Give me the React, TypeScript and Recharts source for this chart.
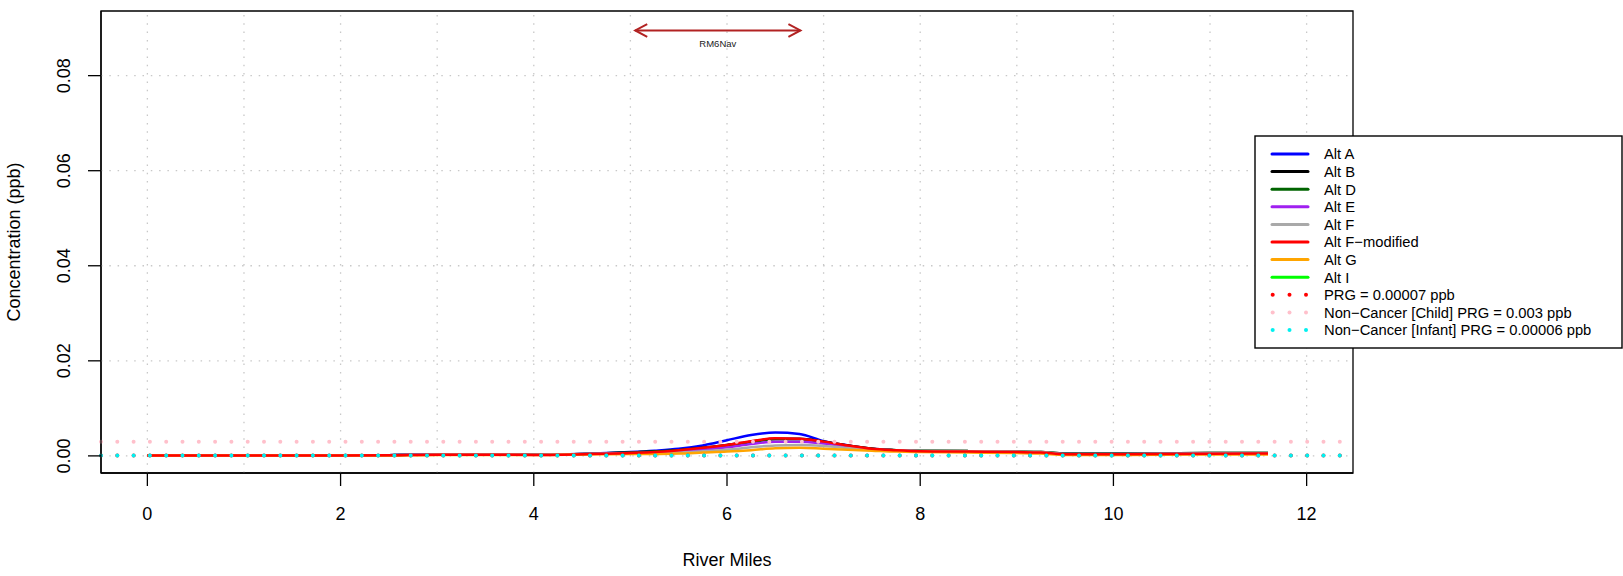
import React from "react";
import { LineChart, Line, XAxis, YAxis, ReferenceLine, ReferenceArea } from "recharts";

const FONT = '"Liberation Sans", Arial, Helvetica, sans-serif';

const riverMiles = [0, 0.5, 1, 1.5, 2, 2.5, 3, 3.5, 4, 4.5, 5, 5.25, 5.5, 5.75, 6, 6.25, 6.5, 6.75, 7, 7.25, 7.5, 7.75, 8, 8.5, 9, 9.25, 9.5, 10, 10.5, 11, 11.6];

const altA = [0.0001, 0.0001, 0.0001, 0.0001, 0.0001, 0.00015, 0.0003, 0.0003, 0.00025, 0.0004, 0.0008, 0.0011, 0.0015, 0.0022, 0.0033, 0.0044, 0.0049, 0.0046, 0.0031, 0.0022, 0.0015, 0.0012, 0.001, 0.0009, 0.0008, 0.0007, 0.00035, 0.00035, 0.0004, 0.00045, 0.0005];
const altB = [0.0001, 0.0001, 0.0001, 0.0001, 0.0001, 0.00015, 0.0003, 0.0003, 0.00025, 0.0004, 0.0007, 0.0009, 0.0012, 0.0017, 0.0023, 0.003, 0.0036, 0.0036, 0.003, 0.0022, 0.0015, 0.0012, 0.0011, 0.001, 0.0009, 0.0008, 0.0005, 0.0005, 0.00055, 0.0006, 0.0006];
const altD = [0.0001, 0.0001, 0.0001, 0.0001, 0.0001, 0.00015, 0.0003, 0.0003, 0.00025, 0.0004, 0.0007, 0.0009, 0.0012, 0.0016, 0.0022, 0.0029, 0.0035, 0.0035, 0.0029, 0.0021, 0.0015, 0.0012, 0.0011, 0.001, 0.0009, 0.0008, 0.0005, 0.0005, 0.00055, 0.0006, 0.0006];
const altE = [0.0001, 0.0001, 0.0001, 0.0001, 0.0001, 0.00015, 0.0003, 0.0003, 0.00025, 0.0004, 0.0006, 0.0006, 0.0009, 0.0013, 0.0018, 0.0025, 0.003, 0.003, 0.0026, 0.002, 0.0014, 0.0012, 0.001, 0.0009, 0.0008, 0.0007, 0.0004, 0.0004, 0.00045, 0.0005, 0.0005];
const altF = [0.0001, 0.0001, 0.0001, 0.0001, 0.0001, 0.00015, 0.0003, 0.0003, 0.00025, 0.0004, 0.0005, 0.0005, 0.0007, 0.001, 0.0013, 0.0018, 0.0022, 0.0023, 0.0021, 0.0017, 0.0013, 0.0012, 0.0011, 0.001, 0.0009, 0.0008, 0.0004, 0.0004, 0.00045, 0.0005, 0.0005];
const altFmod = [0.0001, 0.0001, 0.0001, 0.0001, 0.0001, 0.00015, 0.00025, 0.00025, 0.0002, 0.00035, 0.0006, 0.0008, 0.0012, 0.0017, 0.0023, 0.0031, 0.0037, 0.0036, 0.003, 0.0022, 0.0015, 0.0012, 0.001, 0.0009, 0.0008, 0.0007, 0.00035, 0.00035, 0.0004, 0.00045, 0.0005];
const altG = [0.0001, 0.0001, 0.0001, 0.0001, 0.0001, 0.0001, 0.0002, 0.0002, 0.0002, 0.0003, 0.0004, 0.0004, 0.0005, 0.0007, 0.0009, 0.0012, 0.0016, 0.0017, 0.0015, 0.0013, 0.0011, 0.0009, 0.0008, 0.0007, 0.0006, 0.0005, 0.0002, 0.0002, 0.00025, 0.0003, 0.0003];

const seriesNames = ["Alt A", "Alt B", "Alt D", "Alt E", "Alt F", "Alt F\u2212modified", "Alt G", "Alt I"];
const seriesColors = ["#0000FF", "#000000", "#006400", "#A020F0", "#A9A9A9", "#FF0000", "#FFA500", "#00FF00"];
const seriesKeys = ["altA", "altB", "altD", "altE", "altF", "altFmod", "altG", "altI"];
const drawOrder = ["altA", "altB", "altD", "altE", "altF", "altG", "altFmod"];

const prgNames = ["PRG = 0.00007 ppb", "Non\u2212Cancer [Child] PRG = 0.003 ppb", "Non\u2212Cancer [Infant] PRG = 0.00006 ppb"];
const prgValues = [0.00007, 0.003, 0.00006];
const prgColors = ["#FF0000", "#FFC0CB", "#00F0F0"];

const xTicks = [0, 2, 4, 6, 8, 10, 12];
const yTicks = [0, 0.02, 0.04, 0.06, 0.08];
const gridX = [0, 1, 2, 3, 4, 5, 6, 7, 8, 9, 10, 11, 12];
const xDomain = [-0.48, 12.48];
const yDomain = [-0.0036, 0.0936];

const annotStart = 5.05;
const annotEnd = 6.76;
const annotY = 0.0895;
const annotText = "RM6Nav";

const xTitle = "River Miles";
const yTitle = "Concentration (ppb)";

const seriesValues: Record<string, number[]> = { altA, altB, altD, altE, altF, altFmod, altG };

const data = riverMiles.map((x, i) => {
  const row: Record<string, number> = { x };
  Object.keys(seriesValues).forEach((k) => {
    row[k] = seriesValues[k][i];
  });
  return row;
});

const W = 1623;
const H = 576;

const YTick = (props: any) => {
  const { y, payload } = props;
  const tx = 70.5;
  return (
    <text x={tx} y={y} transform={`rotate(-90, ${tx}, ${y})`} textAnchor="middle" fontSize={18} fill="#000" fontFamily={FONT}>
      {Number(payload.value).toFixed(2)}
    </text>
  );
};

const YLabel = (props: any) => {
  const vb = props.viewBox || { x: 0, y: 11, width: 101, height: 462 };
  const cy = vb.y + vb.height / 2;
  const tx = 19.5;
  return (
    <text x={tx} y={cy} transform={`rotate(-90, ${tx}, ${cy})`} textAnchor="middle" fontSize={18} fill="#000" fontFamily={FONT}>
      {yTitle}
    </text>
  );
};

const ArrowShape = (props: any) => {
  const { x1, y1, x2, y2 } = props;
  if (x1 == null) return null;
  const c = "#B22222";
  const hl = 12;
  const hw = 6.3;
  return (
    <g>
      <line x1={x1} y1={y1} x2={x2} y2={y2} stroke={c} strokeWidth={2} />
      <polyline points={`${x1 + hl},${y1 - hw} ${x1},${y1} ${x1 + hl},${y1 + hw}`} fill="none" stroke={c} strokeWidth={2} />
      <polyline points={`${x2 - hl},${y2 - hw} ${x2},${y2} ${x2 - hl},${y2 + hw}`} fill="none" stroke={c} strokeWidth={2} />
      <text x={(x1 + x2) / 2} y={y1 + 16.5} textAnchor="middle" fontSize={9.5} fill="#222" fontFamily={FONT}>
        {annotText}
      </text>
    </g>
  );
};

const LegendBox = () => {
  const left = 1255;
  const top = 136;
  const w = 367;
  const h = 212;
  const rowH = 17.6;
  const firstY = 154;
  const rows: { name: string; color: string; dotted: boolean }[] = [
    ...seriesNames.map((n, i) => ({ name: n, color: seriesColors[i], dotted: false })),
    ...prgNames.map((n, i) => ({ name: n, color: prgColors[i], dotted: true })),
  ];
  return (
    <svg width={W} height={H} style={{ position: "absolute", left: 0, top: 0, pointerEvents: "none" }}>
      <rect x={left} y={top} width={w} height={h} fill="#fff" stroke="#000" strokeWidth={1.4} />
      {rows.map((r, i) => {
        const y = firstY + i * rowH;
        return (
          <g key={r.name}>
            {r.dotted ? (
              [1272.7, 1289.5, 1306].map((cx) => <circle key={cx} cx={cx} cy={y} r={2} fill={r.color} />)
            ) : (
              <line x1={1272} x2={1308} y1={y} y2={y} stroke={r.color} strokeWidth={3} strokeLinecap="round" />
            )}
            <text x={1324} y={y + 5.3} fontSize={14.75} fill="#000" fontFamily={FONT}>
              {r.name}
            </text>
          </g>
        );
      })}
    </svg>
  );
};

export default function App() {
  return (
    <div style={{ position: "absolute", left: 0, top: 0, width: W, height: H, background: "#fff" }}>
      <LineChart width={W} height={H} data={data} margin={{ top: 11, right: 270, bottom: 0, left: 0 }}>
        <XAxis
          dataKey="x"
          type="number"
          domain={xDomain}
          ticks={xTicks}
          allowDataOverflow
          height={103}
          tickSize={13}
          tickMargin={21.5}
          tick={{ fontSize: 18, fill: "#000", fontFamily: FONT }}
          stroke="#000"
          strokeWidth={1.3}
          tickLine={{ stroke: "#000", strokeWidth: 1.3 }}
          label={{ value: xTitle, position: "insideBottom", offset: 10, fontSize: 18, fill: "#000", fontFamily: FONT }}
        />
        <YAxis
          type="number"
          domain={yDomain}
          ticks={yTicks}
          allowDataOverflow
          width={101}
          tickSize={13}
          tick={<YTick />}
          stroke="#000"
          strokeWidth={1.3}
          tickLine={{ stroke: "#000", strokeWidth: 1.3 }}
          label={<YLabel />}
        />
        {gridX.map((g) => (
          <ReferenceLine key={"gx" + g} x={g} stroke="#c8c8c8" strokeWidth={1.3} strokeDasharray="1.5 6.8" />
        ))}
        {yTicks.map((g) => (
          <ReferenceLine key={"gy" + g} y={g} stroke="#c8c8c8" strokeWidth={1.3} strokeDasharray="1.5 6.8" />
        ))}
        {drawOrder.map((k) => (
          <Line
            key={k}
            dataKey={k}
            type="monotone"
            stroke={seriesColors[seriesKeys.indexOf(k)]}
            strokeWidth={2.5}
            dot={false}
            isAnimationActive={false}
          />
        ))}
        {prgValues.map((v, i) => (
          <ReferenceLine key={"prg" + i} y={v} stroke={prgColors[i]} strokeWidth={4} strokeDasharray="0 16.3" strokeLinecap="round" />
        ))}
        <ReferenceLine
          segment={[
            { x: annotStart, y: annotY },
            { x: annotEnd, y: annotY },
          ]}
          shape={<ArrowShape />}
        />
        <ReferenceArea x1={xDomain[0]} x2={xDomain[1]} y1={yDomain[0]} y2={yDomain[1]} fill="none" fillOpacity={0} stroke="#000" strokeWidth={1.3} />
      </LineChart>
      <LegendBox />
    </div>
  );
}
